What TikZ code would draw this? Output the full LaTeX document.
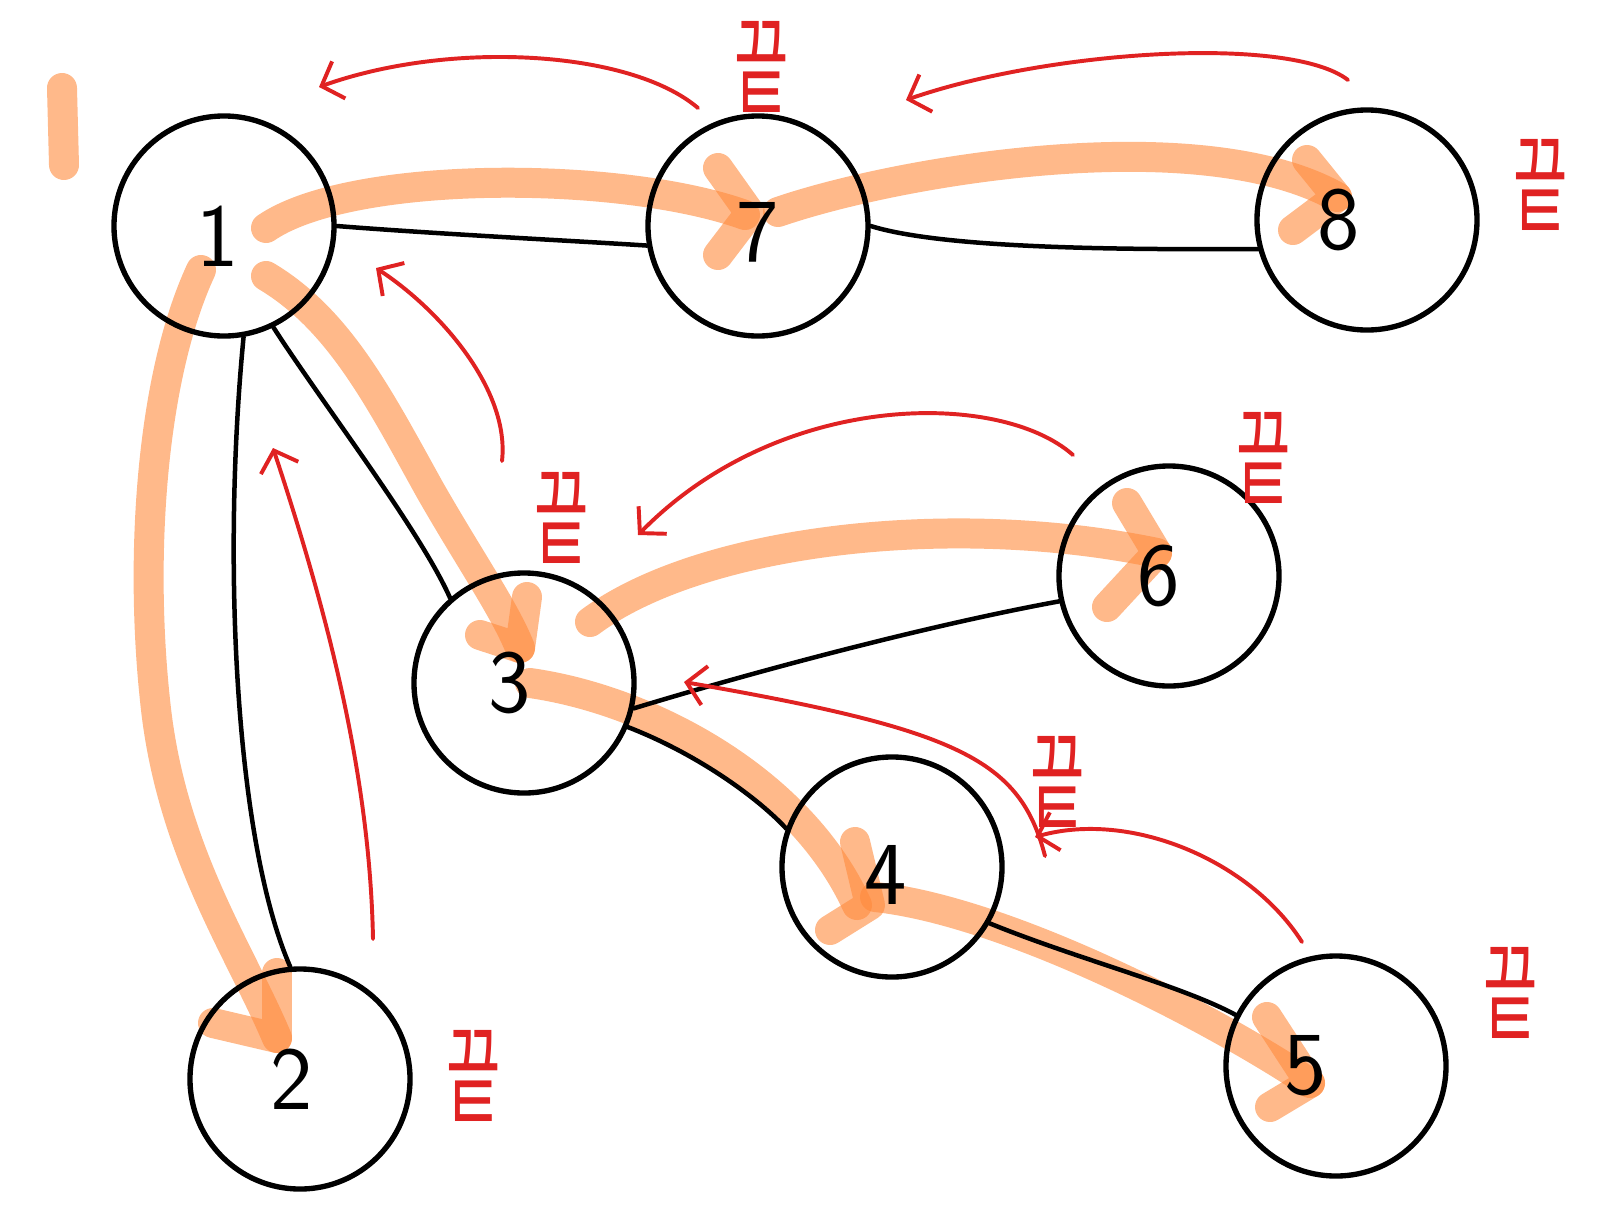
\documentclass[tikz,border=0pt]{standalone}
\usepackage{fontspec}
\usepackage{xcolor}
\usepackage{tikz}
\usetikzlibrary{arrows.meta}
\newfontfamily\kofont{Noto Sans CJK KR}
\definecolor{penred}{HTML}{E02222}
\definecolor{penorange}{HTML}{FF8A3C}
\newcommand\kkt{\scalebox{1}[1.8]{\kofont\fontsize{42}{42}\selectfont 끝}}

\begin{document}
\begin{tikzpicture}[x=0.025cm,y=-0.025cm,
  vx/.style={circle,draw,line width=3.8pt,minimum size=5.5cm,inner sep=0pt},
  lb/.style={font=\sffamily\fontsize{64}{64}\selectfont},
  ed/.style={line width=3.2pt,line cap=round},
  tr/.style={line width=30*0.711pt,penorange,opacity=0.6,line cap=round,line join=round},
  rt/.style={line width=2.8pt,penred,line cap=round,-{Straight Barb[length=13pt,width=28pt]}},
  kk/.style={penred,inner sep=0pt}]
\useasboundingbox (0,0) rectangle (1614,1231);
% orange trails
\draw[tr](62,88) -- (64,165);
\draw[tr](266,228) .. controls (350,170) and (620,170) .. (745,215);
\draw[tr](718,168) -- (750,213) -- (718,255);
\draw[tr](778,212) .. controls (900,170) and (1200,120) .. (1337,197);
\draw[tr](1307,160) -- (1337,197) -- (1293,230);
\draw[tr](266,276) .. controls (340,320) and (380,400) .. (430,490) .. controls (470,560) and (505,610) .. (520,648);
\draw[tr](480,635) -- (520,648) -- (527,597);
\draw[tr](590,622) .. controls (700,540) and (950,510) .. (1157,553);
\draw[tr](1127,503) -- (1157,553) -- (1107,607);
\draw[tr](530,683) .. controls (650,700) and (800,780) .. (857,905);
\draw[tr](855,842) -- (870,905) -- (830,930);
\draw[tr](875,897) .. controls (1000,910) and (1200,1010) .. (1310,1083);
\draw[tr](1267,1017) -- (1310,1083) -- (1270,1107);
\draw[tr](201,270) .. controls (150,380) and (140,560) .. (155,700) .. controls (170,850) and (240,950) .. (277,1038);
\draw[tr](277,973) -- (277,1038) -- (213,1023);
% vertices
\node[vx,label={[lb,xshift=-0.15cm,yshift=-0.25cm]center:1}](v1) at (224,226) {};
\node[vx,label={[lb,yshift=-0.15cm]center:7}](v7) at (758,226) {};
\node[vx,label={[lb,xshift=-0.7cm]center:8}](v8) at (1367,220) {};
\node[vx,label={[lb,xshift=-0.35cm]center:3}](v3) at (524,683) {};
\node[vx,label={[lb,xshift=-0.25cm]center:6}](v6) at (1169,576) {};
\node[vx,label={[lb,xshift=-0.15cm,yshift=-0.2cm]center:4}](v4) at (892,867) {};
\node[vx,label={[lb,xshift=-0.75cm]center:5}](v5) at (1336,1066) {};
\node[vx,label={[lb,xshift=-0.2cm]center:2}](v2) at (300,1079) {};
% edges
\draw[ed](v1.east) .. controls +(100,8) and +(-60,-4) .. (v7.190);
\draw[ed](v7.east) .. controls +(80,25) and +(-100,0) .. (v8.195);
\draw[ed](v1.-80) .. controls (222,560) and (235,840) .. (v2.95);
\draw[ed](v1.-64) .. controls (320,400) and (420,530) .. (v3.131);
\draw[ed](v3.-13) .. controls (760,670) and (930,625) .. (v6.193);
\draw[ed](v3.-23) .. controls (700,755) and (760,800) .. (v4.160);
\draw[ed](v4.-30) .. controls (1080,960) and (1180,985) .. (v5.153);
% red returns
\draw[rt](698,108) .. controls (630,50) and (450,40) .. (319,87);
\draw[rt](1348,80) .. controls (1290,35) and (1050,50) .. (906,100);
\draw[rt](502,461) .. controls (510,390) and (440,310) .. (376,268);
\draw[rt](1073,455) .. controls (1000,390) and (780,390) .. (638,535);
\draw[rt](373,939) .. controls (370,780) and (330,620) .. (273,448);
\draw[rt](1302,942) .. controls (1250,860) and (1130,810) .. (1035,837);
\draw[rt](1045,856) .. controls (1020,760) and (960,730) .. (684,682);
% end marks
\node[kk](k7) at (762,67) {\kkt};
\node[kk](k8) at (1541,185) {\kkt};
\node[kk](k6) at (1264,458) {\kkt};
\node[kk](k3) at (562,518) {\kkt};
\node[kk](k4) at (1058,782) {\kkt};
\node[kk](k5) at (1511,993) {\kkt};
\node[kk](k2) at (474,1076) {\kkt};
\end{tikzpicture}
\end{document}
